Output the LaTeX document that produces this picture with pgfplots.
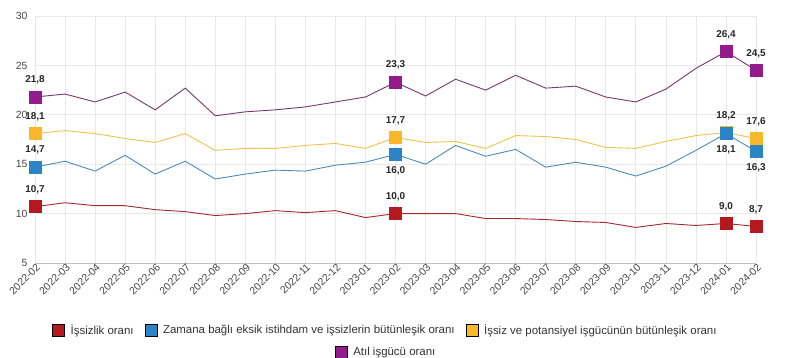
\documentclass[border=0pt]{standalone}
\usepackage{fontspec}
\setmainfont{Liberation Sans}
\usepackage{pgfplots}
\pgfplotsset{compat=1.18}
\usepackage{pgfplotstable}

\definecolor{cred}{HTML}{B3191F}
\definecolor{cblue}{HTML}{2B84C6}
\definecolor{cyel}{HTML}{F8B82A}
\definecolor{cpur}{HTML}{931B8B}
\definecolor{lred}{HTML}{A5282D}
\definecolor{lblue}{HTML}{4A8CBC}
\definecolor{lyel}{HTML}{F0C24E}
\definecolor{lpur}{HTML}{74396D}

\pgfplotstableread[row sep=\\]{
x r b y p\\
0 10.7 14.7 18.1 21.8\\
1 11.1 15.3 18.4 22.1\\
2 10.8 14.3 18.1 21.3\\
3 10.8 15.9 17.6 22.3\\
4 10.4 14.0 17.2 20.5\\
5 10.2 15.3 18.1 22.7\\
6 9.8 13.5 16.4 19.9\\
7 10.0 14.0 16.6 20.3\\
8 10.3 14.4 16.6 20.5\\
9 10.1 14.3 16.9 20.8\\
10 10.3 14.9 17.1 21.3\\
11 9.6 15.2 16.6 21.8\\
12 10.0 16.0 17.7 23.3\\
13 10.0 15.0 17.2 21.9\\
14 10.0 16.9 17.3 23.6\\
15 9.5 15.8 16.6 22.5\\
16 9.5 16.5 17.9 24.0\\
17 9.4 14.7 17.8 22.7\\
18 9.2 15.2 17.5 22.9\\
19 9.1 14.7 16.7 21.8\\
20 8.6 13.8 16.6 21.3\\
21 9.0 14.8 17.3 22.6\\
22 8.8 16.4 17.9 24.7\\
23 9.0 18.1 18.2 26.4\\
24 8.7 16.3 17.6 24.5\\
}\datatable

\begin{document}
\begin{tikzpicture}
\useasboundingbox (-35bp,-95bp) rectangle (765bp,263bp);
\begin{axis}[
  at={(0,0)}, anchor=south west, scale only axis,
  width=721bp, height=247bp,
  xmin=0, xmax=24, ymin=5, ymax=30,
  ytick={5,10,...,30},
  xtick={0,...,24},
  xticklabels={2022-02,2022-03,2022-04,2022-05,2022-06,2022-07,2022-08,2022-09,2022-10,2022-11,2022-12,2023-01,2023-02,2023-03,2023-04,2023-05,2023-06,2023-07,2023-08,2023-09,2023-10,2023-11,2023-12,2024-01,2024-02},
  /pgf/number format/assume math mode=true,
  axis lines*=left,
  x axis line style={draw=black!25, line width=0.8bp},
  y axis line style={draw=none},
  major tick length=0pt,
  grid=major, grid style={draw=black!9, line width=0.7bp},
  tick label style={font=\fontsize{10.5}{12}\selectfont, text=black!72},
  xticklabel style={rotate=45, anchor=east, xshift=4bp, yshift=-4bp},
  yticklabel style={xshift=-4bp},
  legend style={at={(0.486,-0.271)}, anchor=center, draw=none, fill=none,
    font=\fontsize{11.5}{13}\selectfont, text=black!80,
    /tikz/every odd column/.append style={column sep=4bp},
    /tikz/every even column/.append style={column sep=9bp},
    nodes={inner sep=2bp}},
  legend columns=3,
  legend image code/.code={\fill[#1] (0bp,-6bp) rectangle (12bp,6bp);},
]
\addplot[lred, line width=0.9bp, forget plot] table[x=x, y=r] {\datatable};
\addplot[lyel, line width=0.9bp, forget plot] table[x=x, y=y] {\datatable};
\addplot[lblue, line width=0.9bp, forget plot] table[x=x, y=b] {\datatable};
\addplot[lpur, line width=0.9bp, forget plot] table[x=x, y=p] {\datatable};

\pgfplotsset{every node near coord/.append style={font=\bfseries\fontsize{10}{12}\selectfont, text=black!85, anchor=center}}

\addplot[only marks, mark=square*, mark size=6bp, cred, forget plot,
  point meta=explicit symbolic, nodes near coords,
  every node near coord/.append style={yshift=17bp}]
  table[x=x, y=y, meta=l, row sep=\\] {x y l\\ 0 10.7 10,7\\ 12 10.0 10,0\\ 23 9.0 9,0\\ 24 8.7 8,7\\};
\addplot[only marks, mark=square*, mark size=6bp, cyel, forget plot,
  point meta=explicit symbolic, nodes near coords,
  every node near coord/.append style={yshift=17bp}]
  table[x=x, y=y, meta=l, row sep=\\] {x y l\\ 0 18.1 18,1\\ 12 17.7 17,7\\ 23 18.2 18,2\\ 24 17.6 17,6\\};
\addplot[only marks, mark=square*, mark size=6bp, cblue, forget plot,
  point meta=explicit symbolic, nodes near coords,
  every node near coord/.append style={yshift=17bp}]
  table[x=x, y=y, meta=l, row sep=\\] {x y l\\ 0 14.7 14,7\\};
\addplot[only marks, mark=square*, mark size=6bp, cblue, forget plot,
  point meta=explicit symbolic, nodes near coords,
  every node near coord/.append style={yshift=-16bp}]
  table[x=x, y=y, meta=l, row sep=\\] {x y l\\ 12 16.0 16,0\\ 23 18.1 18,1\\ 24 16.3 16,3\\};
\addplot[only marks, mark=square*, mark size=6bp, cpur, forget plot,
  point meta=explicit symbolic, nodes near coords,
  every node near coord/.append style={yshift=17bp}]
  table[x=x, y=y, meta=l, row sep=\\] {x y l\\ 0 21.8 21,8\\ 12 23.3 23,3\\ 23 26.4 26,4\\ 24 24.5 24,5\\};

\addlegendimage{fill=cred}
\addlegendentry{İşsizlik oranı}
\addlegendimage{fill=cblue}
\addlegendentry{Zamana bağlı eksik istihdam ve işsizlerin bütünleşik oranı}
\addlegendimage{fill=cyel}
\addlegendentry{İşsiz ve potansiyel işgücünün bütünleşik oranı}
\end{axis}

\begin{axis}[
  at={(0,0)}, anchor=south west, scale only axis,
  width=721bp, height=247bp, hide axis,
  xmin=0, xmax=1, ymin=0, ymax=1,
  legend style={at={(0.487,-0.360)}, anchor=center, draw=none, fill=none,
    font=\fontsize{11.5}{13}\selectfont, text=black!80,
    /tikz/every odd column/.append style={column sep=4bp},
    nodes={inner sep=2bp}},
  legend image code/.code={\fill[#1] (0bp,-6bp) rectangle (12bp,6bp);},
]
\addplot[draw=none, forget plot] coordinates {(0.5,0.5)};
\addlegendimage{fill=cpur}
\addlegendentry{Atıl işgücü oranı}
\end{axis}
\end{tikzpicture}
\end{document}
